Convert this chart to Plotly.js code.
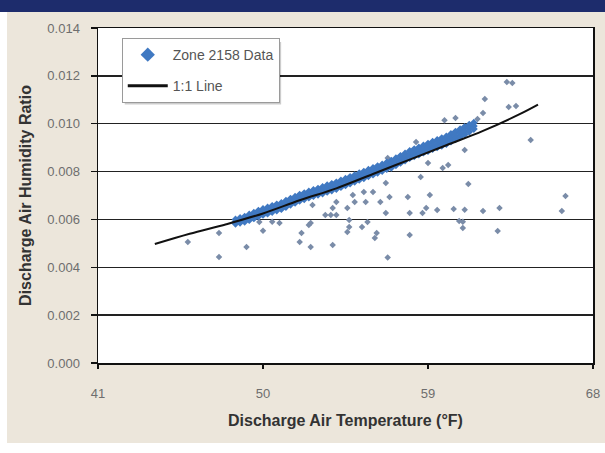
<!DOCTYPE html>
<html><head><meta charset="utf-8">
<script src="https://cdn.plot.ly/plotly-3.0.1.min.js"></script>
<style>
body{margin:0;background:#fff;}
#wrap{position:relative;width:605px;height:453px;background:#fff;overflow:hidden;}
#hdr{position:absolute;left:0;top:0;width:605px;height:12px;background:#1d2c6c;}
#beige{position:absolute;left:7px;top:12px;width:598px;height:431px;background:#ece6db;}
#plot{position:absolute;left:0;top:0;width:605px;height:453px;}
</style></head><body>
<div id="wrap"><div id="hdr"></div><div id="beige"></div><div id="plot"></div></div>
<script>
// 1:1 line
const lineTemp = [44.1, 46, 48, 50, 52, 54, 56, 58, 60, 62, 64, 65];
const lineHum  = [0.00497, 0.0054, 0.0058, 0.00625, 0.0068, 0.0073, 0.0079, 0.0085, 0.0091, 0.0097, 0.0104, 0.0108];

// dense data band
const bandTemp = [48.5,48.75,49,49.25,49.5,49.75,50,50.25,50.5,50.75,51,51.25,51.5,51.75,52,52.25,52.5,52.75,53,53.25,53.5,53.75,54,54.25,54.5,54.75,55,55.25,55.5,55.75,56,56.25,56.5,56.75,57,57.25,57.5,57.75,58,58.25,58.5,58.75,59,59.25,59.5,59.75,60,60.25,60.5,60.75,61,61.25,61.5];
const bandUpper = [0.00600,0.00606,0.00612,0.00621,0.00628,0.00637,0.00644,0.00650,0.00657,0.00663,0.00669,0.00678,0.00687,0.00695,0.00704,0.00710,0.00717,0.00723,0.00729,0.00736,0.00743,0.00749,0.00755,0.00763,0.00770,0.00778,0.00785,0.00793,0.00800,0.00808,0.00815,0.00823,0.00830,0.00838,0.00846,0.00856,0.00866,0.00876,0.00886,0.00894,0.00901,0.00909,0.00917,0.00925,0.00932,0.00940,0.00947,0.00957,0.00967,0.00977,0.00987,0.00996,0.01004];
const bandMid = [0.00590,0.00595,0.00600,0.00608,0.00615,0.00623,0.00630,0.00636,0.00643,0.00649,0.00655,0.00664,0.00673,0.00681,0.00690,0.00696,0.00703,0.00709,0.00715,0.00721,0.00728,0.00734,0.00740,0.00748,0.00755,0.00763,0.00770,0.00778,0.00785,0.00793,0.00800,0.00808,0.00815,0.00823,0.00830,0.00840,0.00850,0.00860,0.00870,0.00878,0.00885,0.00893,0.00900,0.00908,0.00915,0.00923,0.00930,0.00940,0.00950,0.00960,0.00970,0.00980,0.00990];
const bandLower = [0.00582,0.00586,0.00590,0.00597,0.00604,0.00612,0.00619,0.00624,0.00631,0.00637,0.00643,0.00652,0.00661,0.00669,0.00678,0.00684,0.00691,0.00697,0.00703,0.00708,0.00715,0.00721,0.00727,0.00735,0.00742,0.00750,0.00757,0.00765,0.00772,0.00780,0.00787,0.00795,0.00802,0.00810,0.00816,0.00826,0.00836,0.00846,0.00856,0.00864,0.00871,0.00879,0.00886,0.00894,0.00901,0.00908,0.00915,0.00925,0.00935,0.00945,0.00955,0.00966,0.00978];

// scattered data points
const outTemp = [45.9,47.6,47.6,49.1,50.0,48.6,49.8,50.5,50.9,52.6,58.35,56.8,59.0,58.6,59.8,56.7,56.0,55.5,56.9,57.9,59.1,56.4,55.6,55.0,54.9,54.0,53.8,54.6,59.5,58.9,58.7,58.0,56.7,53.4,54.0,52.7,54.7,54.7,55.4,55.7,52.5,52.1,52.0,52.6,53.8,56.2,56.1,58.0,56.8,54.6,53.7,63.3,63.6,62.1,63.4,63.8,62.0,59.9,60.5,61.7,64.6,61.0,60.1,61.2,66.5,66.3,62.9,62.0,61.0,60.4,60.7,60.9,60.9,62.8];
const outHum = [0.00506,0.00543,0.00443,0.00485,0.00553,0.00589,0.00589,0.00590,0.00585,0.00585,0.00924,0.00857,0.00836,0.00777,0.00815,0.00752,0.00715,0.00715,0.00694,0.00694,0.00702,0.00673,0.00673,0.00673,0.00702,0.00673,0.00648,0.00648,0.00639,0.00648,0.00627,0.00627,0.00627,0.00618,0.00618,0.0066,0.00598,0.00568,0.00568,0.00589,0.00577,0.00543,0.00506,0.00485,0.00493,0.00543,0.00522,0.00535,0.00441,0.00547,0.00618,0.01174,0.0117,0.01103,0.0107,0.01074,0.01045,0.01015,0.01024,0.0102,0.00932,0.0089,0.00827,0.00748,0.00698,0.00635,0.00648,0.00635,0.0064,0.00644,0.00593,0.0059,0.00564,0.00552];

const xTicks = [41, 50, 59, 68];
const yTicks = [0, 0.002, 0.004, 0.006, 0.008, 0.010, 0.012, 0.014];
const yTickText = ['0.000','0.002','0.004','0.006','0.008','0.010','0.012','0.014'];

const FONT = '"Liberation Sans", Arial, sans-serif';
const BLUE = '#4079c2';

const traces = [
  {x: outTemp, y: outHum, type:'scatter', mode:'markers', showlegend:false, hoverinfo:'skip',
   marker:{symbol:'diamond', size:5, color:'#7a8ca8'}},
  {x: bandTemp.concat(bandTemp, bandTemp), y: bandUpper.concat(bandMid, bandLower), type:'scatter', mode:'markers', showlegend:false,
   marker:{symbol:'diamond', size:6, color:BLUE}},
  {x: lineTemp, y: lineHum, type:'scatter', mode:'lines', name:'1:1 Line', legendgroup:'b', showlegend:false,
   line:{color:'#111', width:2, shape:'spline'}},
  {x:[null], y:[null], type:'scatter', mode:'markers', name:'Zone 2158 Data', legendgroup:'a',
   marker:{symbol:'diamond', size:11, color:BLUE}},
  {x:[null], y:[null], type:'scatter', mode:'lines', name:'1:1 Line', legendgroup:'b',
   line:{color:'#111', width:3}}
];

const axisCommon = {
  showline:true, linecolor:'#111', linewidth:1.5, mirror:true,
  ticks:'outside', tickcolor:'#111', tickwidth:1.5,
  tickfont:{family:FONT, size:13, color:'#6e6e6e'},
  zeroline:false
};

const layout = {
  width:605, height:453,
  margin:{l:98, r:12, t:28, b:90},
  paper_bgcolor:'rgba(0,0,0,0)', plot_bgcolor:'#fff',
  font:{family:FONT},
  xaxis: Object.assign({}, axisCommon, {
    range:[41,68], tickvals:xTicks, ticklen:4, showgrid:false, ticklabelstandoff:14,
    title:{text:'Discharge Air Temperature (°F)', font:{family:FONT, size:16, color:'#333', weight:'bold'}, standoff:14}
  }),
  yaxis: Object.assign({}, axisCommon, {
    range:[0,0.014], tickvals:yTicks, ticktext:yTickText, ticklen:6, ticklabelstandoff:8,
    showgrid:true, gridcolor:'#222', gridwidth:1.5,
    title:{text:'Discharge Air Humidity Ratio', font:{family:FONT, size:16, color:'#333', weight:'bold'}, standoff:12}
  }),
  legend:{x:0.048, y:0.97, xanchor:'left', yanchor:'top', bgcolor:'#fff', bordercolor:'#9a9a9a', borderwidth:1,
    font:{family:FONT, size:14, color:'#555'}, tracegroupgap:10, traceorder:'grouped', itemwidth:40},
  shapes:[
    {type:'rect', xref:'paper', yref:'paper', x0:0.054, x1:0.37, y0:0.772, y1:0.958, layer:'above',
     fillcolor:'rgba(0,0,0,0.2)', line:{width:0}}
  ]
};

Plotly.newPlot('plot', traces, layout, {displayModeBar:false, staticPlot:true});
</script>
</body></html>
